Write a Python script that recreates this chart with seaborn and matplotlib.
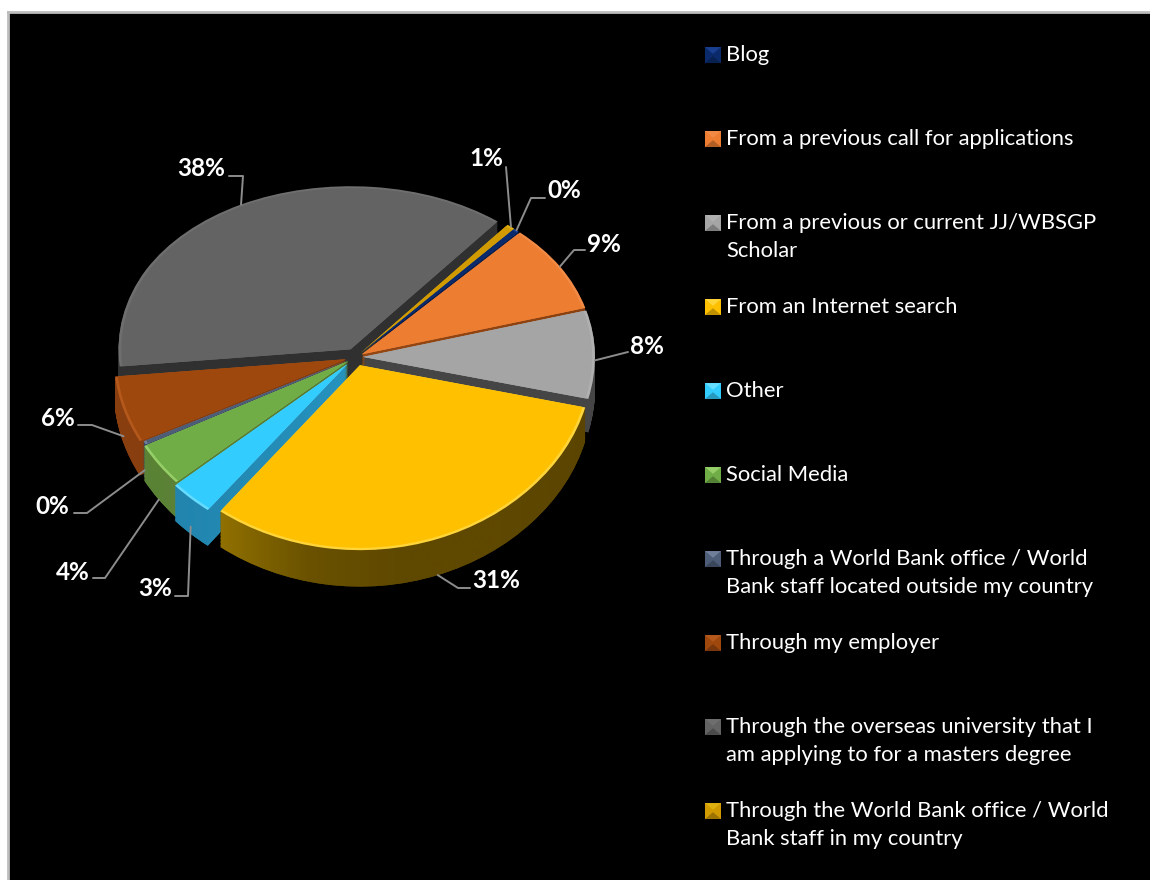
import numpy as np
import matplotlib
matplotlib.use("Agg")
import matplotlib.pyplot as plt
from matplotlib.colors import to_rgb
from matplotlib.path import Path
from matplotlib.transforms import IdentityTransform
import seaborn as sns

# Survey answers, in legend order
categories = [
    "Blog",
    "From a previous call for applications",
    "From a previous or current JJ/WBSGP\nScholar",
    "From an Internet search",
    "Other",
    "Social Media",
    "Through a World Bank office / World\nBank staff located outside my country",
    "Through my employer",
    "Through the overseas university that I\nam applying to for a masters degree",
    "Through the World Bank office / World\nBank staff in my country",
]
shares = [0.4, 8.7, 8.2, 31.45, 3.05, 3.8, 0.3, 6.0, 37.5, 0.6]

top_colors = ["#0b2a6b", "#ed7d31", "#a5a5a5", "#ffc000", "#33ccff",
              "#70ad47", "#4d5d78", "#9e480e", "#636363", "#d09a00"]
bevel_colors = ["#1a3f90", "#f08a45", "#b0b0b0", "#ffd53a", "#66ddff",
                "#96cf68", "#6f7f9a", "#b4581c", "#6e6e6e", "#e0b010"]
# Shading of each slice's outer wall, left to right across the pie
wall_stops = [
    ["#0a1c48", "#0a1c48"], ["#a0501a", "#8a4010"], ["#454545", "#454545"],
    ["#a07c00", "#957400", "#6a5200", "#5f4800", "#5f4800", "#5a4400"],
    ["#2080a8", "#2ca6d6"], ["#5c8436", "#4e7030"], ["#3a4860", "#3a4860"],
    ["#8a3f10", "#7a370c"], ["#303030", "#303030"], ["#7a5a00", "#7a5a00"],
]
# Outward offset of each slice, as a fraction of the radius
slice_offsets = [0.03, 0.03, 0.03, 0.05, 0.055, 0.04, 0.03, 0.045, 0.05, 0.03]
# Painter's order: back slices first, front slices last
paint_order = [8, 9, 0, 1, 2, 7, 6, 5, 4, 3]

# Leader layout in figure pixels: text centre, elbow points and how far down
# the wall (0 top edge, 1 bottom edge) the line touches the slice
label_xy = [(564, 191), (604, 244), (647, 347), (496, 581), (155, 589),
            (73, 572), (52, 506), (58, 419), (201, 169), (486, 159)]
leader_elbows = [[(545, 198), (531, 198)], [(585, 250), (574, 250)], [(628, 352)],
                 [(470, 588), (458, 588)], [(175, 596), (188, 596)],
                 [(93, 578), (105, 578)], [(74, 513), (87, 513)],
                 [(78, 425), (92, 425)], [(229, 176), (243, 176)], [(506, 167)]]
leader_wall = [0, 0, 0.2, 1, 0.8, 1, 0.8, 0.8, 0, 0]

W, H = 1150, 880
CX, CY, RX, RY, BOW = 356, 357, 232, 174, 10
DEPTH = 0.185
START = 48.5

sns.set_theme(style="dark")
plt.rcParams["font.family"] = ["Lato", "DejaVu Sans"]
palette = sns.color_palette(top_colors)
bevel = sns.color_palette(bevel_colors)

fig = plt.figure(figsize=(W / 100, H / 100), dpi=100, facecolor="white")

# Black panel with a thin grey rule along its left and top sides
panel = fig.add_axes([8 / W, 0, 1 - 8 / W, 1 - 12 / H], facecolor="black")
panel.set_xticks([])
panel.set_yticks([])
for side, spine in panel.spines.items():
    spine.set_visible(side in ("left", "top"))
    spine.set_color("#bdbdbd")
    spine.set_linewidth(2)


# Vertical scale that enlarges the near half of the pie a little
def near_far(y):
    y = np.asarray(y, dtype=float)
    return RY * y - BOW * y * y


def near_far_inv(u):
    u = np.asarray(u, dtype=float)
    return (RY - np.sqrt(np.maximum(RY * RY - 4 * BOW * u, 0))) / (2 * BOW)


ax = fig.add_axes([0, 0, 1, 1], facecolor="none")


def pie_layer(colors, drop, z_offset, radius=1.0):
    wedges, _ = ax.pie(shares, colors=colors, explode=slice_offsets, startangle=START,
                       counterclock=False, radius=radius, center=(0, -drop), normalize=True,
                       wedgeprops={"linewidth": 0})
    for rank, idx in enumerate(paint_order):
        wedges[idx].set_zorder(rank + z_offset)
    return wedges


wall_mid = [sns.blend_palette(s, 3)[1] for s in wall_stops]
wall_layers = [pie_layer(wall_mid, d, 0.0) for d in np.linspace(DEPTH, 0.005, 26)]
pie_layer(bevel, 0.0, 0.5)
pie_layer(palette, 0.0, 0.6, radius=0.988)

ax.set_aspect("auto")
ax.set_yscale("function", functions=(near_far, near_far_inv))
ax.set_xlim(-CX / RX, (W - CX) / RX)
ax.set_ylim(float(near_far_inv(CY - H)), float(near_far_inv(CY)))
ax.set_autoscale_on(False)
ax.axis("off")
fig.canvas.draw()

# Horizontal shading on the walls, clipped to the stacked wedges of each slice
for rank, idx in enumerate(paint_order):
    rgb = np.array([to_rgb(c) for c in wall_stops[idx]])
    t = np.linspace(0, 1, 256)
    pos = np.linspace(0, 1, len(rgb))
    strip = np.stack([np.interp(t, pos, rgb[:, k]) for k in range(3)], axis=-1)[None, :, :]
    paths = [w[idx].get_transform().transform_path(w[idx].get_path()) for w in wall_layers]
    # Gradient spans the pie's horizontal extent
    left = (CX - 1.05 * RX) / W
    right = (CX + 1.05 * RX) / W
    img = ax.imshow(strip, extent=(left, right, 0, 1), transform=ax.transAxes,
                    aspect="auto", zorder=rank + 0.1, interpolation="bilinear")
    img.set_clip_path(Path.make_compound_path(*paths), IdentityTransform())

# Pixel-addressed layer for labels, leaders and the legend
over = fig.add_axes([0, 0, 1, 1], facecolor="none")
over.set_xlim(0, W)
over.set_ylim(H, 0)
over.axis("off")

total = sum(shares)
edges = START - 360 * np.cumsum([0] + shares) / total
for i, share in enumerate(shares):
    mid = np.deg2rad((edges[i] + edges[i + 1]) / 2)
    rim = 1 + slice_offsets[i]
    px, py = ax.transData.transform((rim * np.cos(mid), rim * np.sin(mid) - leader_wall[i] * DEPTH))
    ax_x, ax_y = over.transData.inverted().transform((px, py))
    pts = leader_elbows[i] + [(ax_x, ax_y)]
    sns.lineplot(x=[p[0] for p in pts], y=[p[1] for p in pts], ax=over, sort=False,
                 estimator=None, color="#8c8c8c", linewidth=1.4, zorder=20)
    over.text(*label_xy[i], f"{share:.0f}%", color="white", fontsize=17.5, fontweight="bold",
              ha="center", va="center", zorder=21)

# Legend: one row per category on a regular grid
leg_y = [55 + 84 * i for i in range(len(categories))]
leg_x = [713] * len(categories)
shaded = [tuple(0.75 * c for c in p) for p in palette]
sns.scatterplot(x=leg_x, y=leg_y, ax=over, marker="s", s=120, hue=categories,
                palette=list(palette), legend=False, linewidth=0, zorder=22)
top_tri = [(-1, 1), (1, 1), (0, 0.15)]
low_tri = [(-1, -1), (1, -1), (0, -0.15)]
sns.scatterplot(x=leg_x, y=leg_y, ax=over, marker=top_tri, s=130, hue=categories,
                palette=list(bevel), legend=False, linewidth=0, zorder=23)
sns.scatterplot(x=leg_x, y=leg_y, ax=over, marker=low_tri, s=130, hue=categories,
                palette=shaded, legend=False, linewidth=0, zorder=23)
for name, y in zip(categories, leg_y):
    over.text(726, y - 10, name, color="white", fontsize=15.8, va="top", ha="left",
              linespacing=1.53, zorder=24)

fig.savefig("out.png", dpi=100, facecolor="white")
